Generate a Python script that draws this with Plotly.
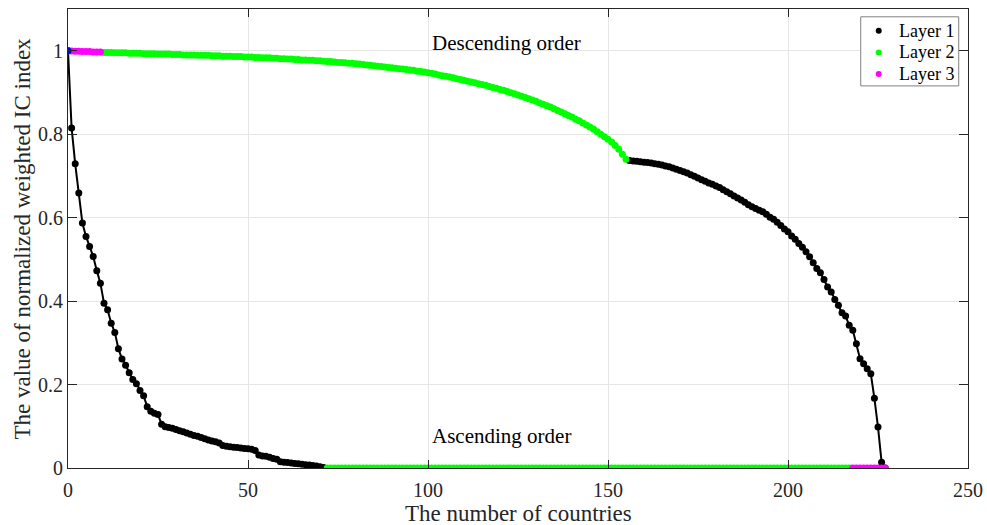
import plotly.graph_objects as go

# Number of countries in each layer
layer_counts = {1: 72, 2: 146, 3: 10}
layer_colors = {1: "#000000", 2: "#00ff00", 3: "#ff00ff"}
layer_names = {1: "Layer 1", 2: "Layer 2", 3: "Layer 3"}

# Normalized weighted IC index, sorted in descending order (layer 3, layer 2, layer 1)
desc_layer3 = [1.000, 0.9995, 0.999, 0.999, 0.998, 0.998, 0.998, 0.997, 0.997, 0.997]
desc_layer2 = [
    0.996, 0.996, 0.996, 0.995, 0.995, 0.995, 0.995, 0.994, 0.994, 0.994,
    0.994, 0.993, 0.993, 0.993, 0.993, 0.992, 0.992, 0.992, 0.992, 0.991,
    0.991, 0.991, 0.990, 0.990, 0.990, 0.990, 0.989, 0.989, 0.989, 0.989,
    0.988, 0.988, 0.988, 0.987, 0.987, 0.987, 0.986, 0.986, 0.986, 0.985,
    0.985, 0.985, 0.984, 0.984, 0.983, 0.983, 0.983, 0.982, 0.982, 0.981,
    0.981, 0.980, 0.980, 0.979, 0.979, 0.978, 0.978, 0.977, 0.977, 0.976,
    0.976, 0.975, 0.974, 0.974, 0.973, 0.972, 0.972, 0.971, 0.970, 0.970,
    0.969, 0.968, 0.967, 0.966, 0.965, 0.964, 0.963, 0.962, 0.961, 0.960,
    0.959, 0.958, 0.957, 0.956, 0.955, 0.954, 0.953, 0.951, 0.950, 0.949,
    0.947, 0.946, 0.944, 0.942, 0.940, 0.939, 0.937, 0.935, 0.933, 0.931,
    0.929, 0.927, 0.925, 0.923, 0.921, 0.919, 0.917, 0.914, 0.912, 0.910,
    0.907, 0.905, 0.902, 0.899, 0.897, 0.894, 0.891, 0.888, 0.885, 0.882,
    0.879, 0.875, 0.872, 0.868, 0.865, 0.861, 0.857, 0.853, 0.849, 0.845,
    0.841, 0.836, 0.832, 0.827, 0.822, 0.817, 0.812, 0.806, 0.800, 0.794,
    0.788, 0.781, 0.773, 0.764, 0.752, 0.740,
]
desc_layer1 = [
    0.737, 0.736, 0.735, 0.734, 0.733, 0.732, 0.731, 0.729, 0.728, 0.726,
    0.724, 0.722, 0.719, 0.716, 0.713, 0.710, 0.707, 0.703, 0.699, 0.695,
    0.691, 0.687, 0.683, 0.680, 0.676, 0.672, 0.667, 0.662, 0.657, 0.652,
    0.647, 0.642, 0.637, 0.631, 0.626, 0.622, 0.618, 0.614, 0.608, 0.601,
    0.596, 0.589, 0.581, 0.573, 0.566, 0.556, 0.548, 0.538, 0.529, 0.518,
    0.506, 0.492, 0.478, 0.468, 0.452, 0.434, 0.422, 0.404, 0.390, 0.372,
    0.364, 0.342, 0.330, 0.298, 0.262, 0.250, 0.238, 0.226, 0.167, 0.098,
    0.014, 0.000,
]

# Same index sorted in ascending order of layer (layer 1, layer 2, layer 3)
asc_layer1 = [
    1.000, 0.815, 0.729, 0.659, 0.587, 0.555, 0.531, 0.507, 0.473, 0.443,
    0.395, 0.379, 0.347, 0.325, 0.286, 0.261, 0.246, 0.228, 0.212, 0.202,
    0.186, 0.173, 0.147, 0.136, 0.131, 0.128, 0.105, 0.099, 0.097, 0.095,
    0.092, 0.089, 0.087, 0.084, 0.081, 0.078, 0.076, 0.073, 0.070, 0.067,
    0.065, 0.063, 0.060, 0.054, 0.052, 0.051, 0.050, 0.049, 0.048, 0.047,
    0.046, 0.045, 0.042, 0.031, 0.029, 0.028, 0.026, 0.023, 0.021, 0.015,
    0.014, 0.013, 0.012, 0.011, 0.010, 0.009, 0.008, 0.007, 0.006, 0.005,
    0.003, 0.001,
]
asc_layer2 = [0.0] * 146
asc_layer3 = [0.0] * 10

x_ticks = [0, 50, 100, 150, 200, 250]
y_ticks = [0, 0.2, 0.4, 0.6, 0.8, 1]
y_tick_text = ["0", "0.2", "0.4", "0.6", "0.8", "1"]

FONT = "Liberation Serif"
TEXT = "#262626"

curves = [
    [(3, desc_layer3), (2, desc_layer2), (1, desc_layer1)],
    [(1, asc_layer1), (2, asc_layer2), (3, asc_layer3)],
]

fig = go.Figure()

# connecting lines underneath the markers
for curve in curves:
    ys = [v for _, vals in curve for v in vals]
    fig.add_trace(go.Scatter(
        x=list(range(len(ys))), y=ys, mode="lines",
        line=dict(color="black", width=2), showlegend=False, hoverinfo="skip",
    ))

# markers coloured by layer
for layer in (1, 2, 3):
    xs, ys = [], []
    for curve in curves:
        start = 0
        for lay, vals in curve:
            if lay == layer:
                xs.extend(range(start, start + len(vals)))
                ys.extend(vals)
            start += len(vals)
    fig.add_trace(go.Scatter(
        x=xs, y=ys, mode="markers", name=layer_names[layer],
        marker=dict(color=layer_colors[layer], size=7, line=dict(width=0)),
        showlegend=False,
    ))

# starting point shared by both orderings
fig.add_trace(go.Scatter(
    x=[0], y=[desc_layer3[0]], mode="markers",
    marker=dict(color="#0000ff", size=7), showlegend=False,
))

fig.add_annotation(x=0.4019, xref="paper", xanchor="left", y=1.0, yref="y",
                   yshift=8, yanchor="middle",
                   text="Descending order", showarrow=False,
                   font=dict(family=FONT, size=21, color="#000000"))
fig.add_annotation(x=0.4019, xref="paper", xanchor="left", y=0.0, yref="y",
                   yshift=32, yanchor="middle",
                   text="Ascending order", showarrow=False,
                   font=dict(family=FONT, size=21, color="#000000"))

# axis titles
fig.add_annotation(x=0.5, xref="paper", xanchor="center",
                   y=0, yref="paper", yanchor="middle", yshift=-45,
                   text="The number of countries", showarrow=False,
                   font=dict(family=FONT, size=23, color=TEXT))
fig.add_annotation(x=0, xref="paper", xanchor="center", xshift=-46,
                   y=0.5, yref="paper", yanchor="middle",
                   text="The value of normalized weighted IC index",
                   textangle=-90, showarrow=False,
                   font=dict(family=FONT, size=23, color=TEXT))

# legend box drawn in the upper-right corner of the axes
legend_left, legend_right = 0.9897 - 98 / 900, 0.9897
legend_top = 0.983
fig.add_shape(type="rect", xref="paper", yref="paper",
              x0=legend_left, x1=legend_right,
              y0=legend_top - 69 / 458.4, y1=legend_top,
              line=dict(color="#808080", width=1), fillcolor="white", layer="above")
for i, layer in enumerate((1, 2, 3)):
    yc = legend_top - (14 + 21.6 * i) / 458.4
    fig.add_shape(type="circle", xref="paper", yref="paper",
                  xsizemode="pixel", ysizemode="pixel",
                  xanchor=legend_left + 18 / 900, yanchor=yc,
                  x0=-3, x1=3, y0=-3, y1=3,
                  line=dict(width=0), fillcolor=layer_colors[layer], layer="above")
    fig.add_annotation(x=legend_left + 36 / 900, xref="paper", y=yc, yref="paper",
                       xanchor="left", yanchor="middle", text=layer_names[layer],
                       showarrow=False,
                       font=dict(family=FONT, size=18, color="#000000"))

axis_common = dict(
    showgrid=True, gridcolor="#e6e6e6", gridwidth=1,
    showline=True, linecolor=TEXT, linewidth=1, mirror="ticks",
    ticks="inside", tickcolor=TEXT, zeroline=False, automargin=False,
    tickfont=dict(family=FONT, size=20, color=TEXT),
)

fig.update_xaxes(range=[0, 250], tickvals=x_ticks, ticklen=8,
                 ticklabelstandoff=4, **axis_common)
fig.update_yaxes(range=[0, 1.1], tickvals=y_ticks, ticktext=y_tick_text,
                 ticklen=9, **axis_common)

fig.update_layout(
    width=987, height=525,
    margin=dict(l=68, r=19, t=9, b=57),
    paper_bgcolor="white", plot_bgcolor="white",
    font=dict(family=FONT, color="#000000"),
    showlegend=False,
)

fig.write_html("out.html")
